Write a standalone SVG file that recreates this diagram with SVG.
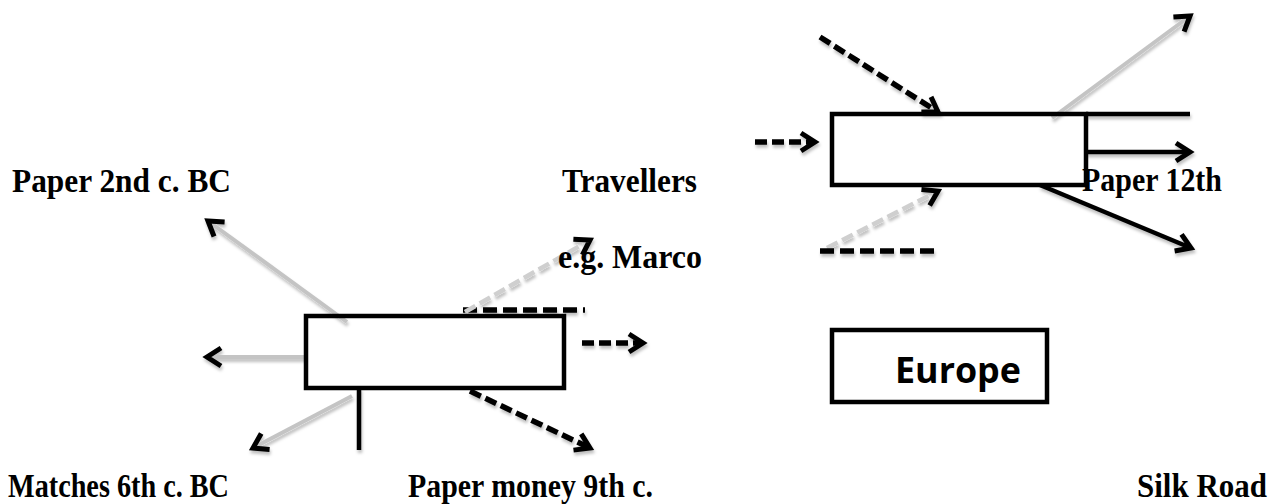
<svg xmlns="http://www.w3.org/2000/svg" width="1274" height="504" viewBox="0 0 1274 504">
<style>
.box{fill:none;stroke:#000;stroke-width:4.5}
.lbl{font-family:"Liberation Serif","Times New Roman",serif;font-weight:bold;font-size:33px;fill:#000}
.eu{font-family:"Open Sans","Noto Sans",sans-serif;font-weight:bold;font-size:35px;fill:#000}
.k{stroke:#000;stroke-width:4.5;fill:none}
.kd{stroke:#000;stroke-width:5.5;fill:none;stroke-dasharray:12 5}
.g{stroke:#c4c4c4;stroke-width:4;fill:none}
.gd{stroke:#cfcfcf;stroke-width:4.5;fill:none;stroke-dasharray:12 5}
</style>
<defs>
<filter id="sh" x="-10%" y="-10%" width="130%" height="140%">
<feDropShadow dx="1" dy="3" stdDeviation="1.5" flood-color="#000" flood-opacity="0.25"/>
</filter>
<marker id="ah" viewBox="-4 -4 24 26" markerWidth="24" markerHeight="26" refX="14" refY="9" orient="auto" markerUnits="userSpaceOnUse">
<path d="M0,0 L14,9 L0,18" fill="none" stroke="#000" stroke-width="5"/>
</marker>
</defs>
<rect width="1274" height="504" fill="#fff"/>
<g id="connectors" filter="url(#sh)">
<line class="g" x1="347" y1="322" x2="208" y2="221" marker-end="url(#ah)"/>
<line class="g" x1="305" y1="357" x2="207" y2="357" marker-end="url(#ah)"/>
<line class="g" x1="352" y1="396" x2="253" y2="448" marker-end="url(#ah)"/>
<line class="k" x1="359" y1="388" x2="359" y2="450"/>
<line class="kd" x1="470" y1="391" x2="590" y2="448" marker-end="url(#ah)"/>
<line class="kd" x1="582" y1="343" x2="643" y2="343" marker-end="url(#ah)"/>
<line class="kd" x1="463" y1="310" x2="585" y2="310" style="stroke-dasharray:14 6"/>
<line class="gd" x1="465" y1="312" x2="590" y2="240" marker-end="url(#ah)"/>
<line class="kd" x1="820" y1="37" x2="938" y2="112" marker-end="url(#ah)"/>
<line class="kd" x1="755" y1="142" x2="815" y2="142" marker-end="url(#ah)"/>
<line class="gd" x1="827" y1="248" x2="938" y2="191" marker-end="url(#ah)"/>
<line class="kd" x1="820" y1="251" x2="937" y2="251" style="stroke-dasharray:14 6"/>
<line class="k" x1="1086" y1="114" x2="1190" y2="114"/>
<line class="k" x1="1086" y1="152" x2="1190" y2="152" marker-end="url(#ah)"/>
<line class="k" x1="1040" y1="185" x2="1191" y2="248" marker-end="url(#ah)"/>
<line class="g" x1="1052" y1="118" x2="1190" y2="16" marker-end="url(#ah)"/>
</g>
<g id="box-left"><rect class="box" x="306" y="316" width="258" height="72"/></g>
<g id="box-right"><rect class="box" x="832" y="114" width="254" height="71"/></g>
<g id="europe"><rect class="box" x="832" y="330" width="215" height="72"/><text class="eu" x="895" y="383" textLength="126" lengthAdjust="spacingAndGlyphs">Europe</text></g>
<g id="lbl-paper2nd"><text class="lbl" x="12" y="192" textLength="219" lengthAdjust="spacingAndGlyphs">Paper 2nd c. BC</text></g>
<g id="lbl-travellers"><text class="lbl" x="562" y="192" textLength="135" lengthAdjust="spacingAndGlyphs">Travellers</text></g>
<g id="lbl-marco"><text class="lbl" x="558" y="268" textLength="144" lengthAdjust="spacingAndGlyphs">e.g. Marco</text></g>
<g id="lbl-paper12"><text class="lbl" x="1082" y="191" textLength="140" lengthAdjust="spacingAndGlyphs">Paper 12th</text></g>
<g id="lbl-matches"><text class="lbl" x="8" y="497" textLength="221" lengthAdjust="spacingAndGlyphs">Matches 6th c. BC</text></g>
<g id="lbl-money"><text class="lbl" x="408" y="497" textLength="245" lengthAdjust="spacingAndGlyphs">Paper money 9th c.</text></g>
<g id="lbl-silk"><text class="lbl" x="1137" y="497" textLength="130" lengthAdjust="spacingAndGlyphs">Silk Road</text></g>
</svg>
